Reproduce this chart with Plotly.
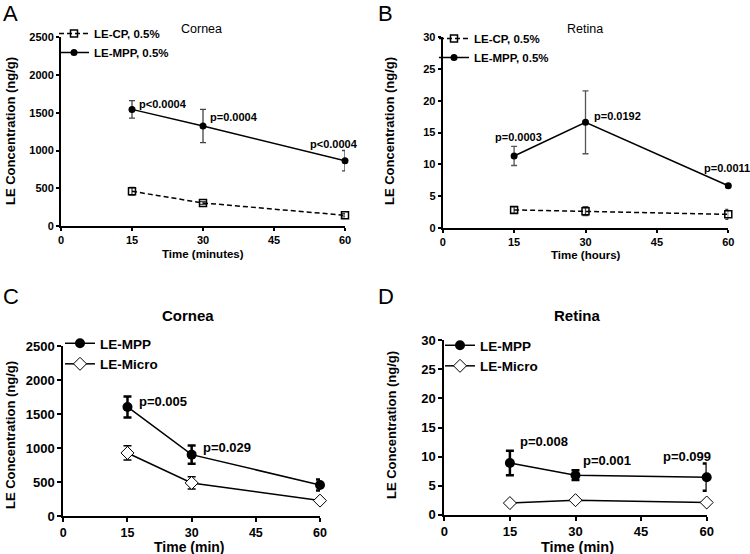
import plotly.graph_objects as go

W, H = 750, 554

# ---------------- data ----------------
time_pts = [15, 30, 60]
x_ticks = [0, 15, 30, 45, 60]

# Panel A – Cornea (minutes)
a_cp = [460, 305, 142]
a_cp_err = [50, 18, 22]
a_mpp = [1545, 1325, 865]
a_mpp_err = [115, 220, 135]
a_p_labels = ["p<0.0004", "p=0.0004", "p<0.0004"]
a_p_x = [16.0, 31.0, 57.6]
a_p_y = [1615, 1438, 1085]
a_p_anchor = ["left", "left", "center"]

# Panel B – Retina (hours)
b_cp = [2.8, 2.6, 2.1]
b_cp_err = [0.5, 0.7, 0.8]
b_mpp = [11.3, 16.6, 6.6]
b_mpp_err = [1.5, 4.95, 0.3]
b_p_labels = ["p=0.0003", "p=0.0192", "p=0.0011"]
b_p_x = [15.9, 31.4, 54.5]
b_p_y = [14.3, 17.6, 9.4]
b_p_anchor = ["center", "left", "left"]

# Panel C – Cornea (min)
c_mpp = [1605, 905, 460]
c_mpp_err = [155, 135, 80]
c_micro = [930, 490, 230]
c_micro_err = [105, 90, 20]
c_p_labels = ["p=0.005", "p=0.029", "p=0.017"]
c_p_x = [17.2, 32.3, 63.1]
c_p_y = [1692, 1017, 734]
c_p_anchor = ["left", "left", "center"]

# Panel D – Retina (min)
d_mpp = [8.9, 6.8, 6.45]
d_mpp_err = [2.1, 0.85, 2.35]
d_micro = [2.0, 2.5, 2.1]
d_micro_err = [0.15, 0.2, 0.15]
d_p_labels = ["p=0.008", "p=0.001", "p=0.099"]
d_p_x = [16.9, 31.2, 55.6]
d_p_y = [12.63, 9.36, 9.93]
d_p_anchor = ["left", "left", "center"]

y_ticks_cornea = [0, 500, 1000, 1500, 2000, 2500]
y_ticks_retina = [0, 5, 10, 15, 20, 25, 30]

FONT = "Liberation Sans, Arial, sans-serif"
BOLD = "Liberation Sans, Arial, sans-serif"

# pixel geometry of each panel: (x0, x60, y0, ytop)
panels = {
    "A": (61, 345, 226, 37.3),
    "B": (442.7, 728.3, 227.7, 37.3),
    "C": (63.3, 320, 516.3, 346),
    "D": (444.3, 706.7, 514.7, 340.3),
}

def px_x(p):
    return p / W

def px_y(p):
    return 1 - p / H

fig = go.Figure()

def add_series(xa, ya, legend, name, y, err, symbol, msize, fill, dash,
               lw, errcolor, errthick, errwidth, mline):
    fig.add_trace(go.Scatter(
        x=time_pts, y=y, name=name, mode="lines+markers",
        xaxis=xa, yaxis=ya, legend=legend,
        line=dict(color="black", width=lw, dash=dash),
        marker=dict(symbol=symbol, size=msize, color=fill,
                    line=dict(color="black", width=mline)),
        error_y=dict(type="data", array=err, visible=True, color=errcolor,
                     thickness=errthick, width=errwidth),
        cliponaxis=False,
    ))

# A
add_series("x", "y", "legend", "LE-CP, 0.5%", a_cp, a_cp_err, "square-open", 7,
           "black", "5px,3px", 1.5, "#444", 1.3, 3, 1.5)
add_series("x", "y", "legend", "LE-MPP, 0.5%", a_mpp, a_mpp_err, "circle", 7,
           "black", "solid", 1.5, "#444", 1.3, 3, 0)
# B
add_series("x2", "y2", "legend2", "LE-CP, 0.5%", b_cp, b_cp_err, "square-open", 7,
           "black", "5px,3px", 1.5, "#444", 1.3, 3, 1.5)
add_series("x2", "y2", "legend2", "LE-MPP, 0.5%", b_mpp, b_mpp_err, "circle", 7,
           "black", "solid", 1.5, "#555", 1.3, 3, 0)
# C
add_series("x3", "y3", "legend3", "LE-MPP", c_mpp, c_mpp_err, "circle", 10,
           "black", "solid", 1.5, "black", 2.5, 4, 0)
add_series("x3", "y3", "legend3", "LE-Micro", c_micro, c_micro_err, "diamond", 10,
           "white", "solid", 1.5, "black", 1.5, 4, 1)
# D
add_series("x4", "y4", "legend4", "LE-MPP", d_mpp, d_mpp_err, "circle", 10,
           "black", "solid", 1.5, "black", 2.5, 4, 0)
add_series("x4", "y4", "legend4", "LE-Micro", d_micro, d_micro_err, "diamond", 10,
           "white", "solid", 1.5, "black", 1.5, 4, 1)

layout = dict(
    width=W, height=H, margin=dict(l=0, r=0, t=0, b=0, autoexpand=False),
    paper_bgcolor="white", plot_bgcolor="white",
    font=dict(family=FONT, color="black"),
    showlegend=True,
)

axis_names = [("xaxis", "yaxis", "x", "y"), ("xaxis2", "yaxis2", "x2", "y2"),
              ("xaxis3", "yaxis3", "x3", "y3"), ("xaxis4", "yaxis4", "x4", "y4")]
ymax = {"A": 2500, "B": 30, "C": 2500, "D": 30}
yt = {"A": y_ticks_cornea, "B": y_ticks_retina, "C": y_ticks_cornea, "D": y_ticks_retina}
for key, (xn, yn, xr, yr) in zip("ABCD", axis_names):
    x0, x60, y0, ytop = panels[key]
    small = key in "AB"
    tsize = 11 if small else 13
    xtsize = 11 if small else (12.5 if key == "C" else 13)
    lwid = 2
    common = dict(
        showline=True, linecolor="black", linewidth=lwid,
        ticks="outside", ticklen=3 if small else 4, tickwidth=lwid, tickcolor="black",
        showgrid=False, zeroline=False, automargin=False,
        fixedrange=True,
    )
    layout[xn] = dict(
        domain=[px_x(x0), px_x(x60)], range=[0, 60], anchor=yr,
        tickvals=x_ticks, ticktext=[str(v) for v in x_ticks],
        tickfont=dict(family=BOLD, size=xtsize, color="black", weight="bold"), **common)
    layout[yn] = dict(
        domain=[px_y(y0), px_y(ytop)], range=[0, ymax[key]], anchor=xr,
        tickvals=yt[key], ticktext=[str(v) for v in yt[key]],
        tickfont=dict(family=BOLD, size=tsize, color="black", weight="bold"), **common)

# legends
leg_specs = {
    "legend": (px_x(54), px_y(19), 11.5),
    "legend2": (px_x(434), px_y(24), 11.5),
    "legend3": (px_x(60), px_y(328), 13.5),
    "legend4": (px_x(440), px_y(330), 13.5),
}
for ln, (lx, ly, fs) in leg_specs.items():
    layout[ln] = dict(x=lx, y=ly, xanchor="left", yanchor="top",
                      bgcolor="rgba(0,0,0,0)", borderwidth=0,
                      font=dict(family=BOLD, size=fs, color="black", weight="bold"),
                      itemwidth=30, tracegroupgap=0)

fig.update_layout(**layout)

annots = []
# panel letters
for letter, (lx, ly) in {"A": (1, 13), "B": (376, 13), "C": (1, 296), "D": (376, 296)}.items():
    annots.append(dict(text=letter, x=px_x(lx), y=px_y(ly), xref="paper", yref="paper",
                       xanchor="left", yanchor="middle", showarrow=False,
                       font=dict(family=FONT, size=22, color="black")))
# panel titles
titles = [("Cornea", 202, 29, 12.5, "normal"), ("Retina", 585, 29, 12.5, "normal"),
          ("Cornea", 188, 315, 15, "bold"), ("Retina", 577, 315, 15, "bold")]
for t, tx, ty, fs, wt in titles:
    annots.append(dict(text=t, x=px_x(tx), y=px_y(ty), xref="paper", yref="paper",
                       xanchor="center", yanchor="middle", showarrow=False,
                       font=dict(family=FONT, size=fs, color="black", weight=wt)))
# x-axis titles
xtitles = [("Time (minutes)", 203, 254, 11.5), ("Time (hours)", 586, 255, 11.5),
           ("Time (min)", 189, 547, 14), ("Time (min)", 577, 546.5, 14.5)]
for t, tx, ty, fs in xtitles:
    annots.append(dict(text=t, x=px_x(tx), y=px_y(ty), xref="paper", yref="paper",
                       xanchor="center", yanchor="middle", showarrow=False,
                       font=dict(family=BOLD, size=fs, color="black", weight="bold")))
# y-axis titles
ytitles = [(10, 131), (389, 131), (11, 435), (391, 425)]
for tx, ty in ytitles:
    annots.append(dict(text="LE Concentration (ng/g)", x=px_x(tx), y=px_y(ty),
                       xref="paper", yref="paper", textangle=-90,
                       xanchor="center", yanchor="middle", showarrow=False,
                       font=dict(family=BOLD, size=13, color="black", weight="bold")))
# p-value labels
for xr, yr, labels, xs, ys, anc, fs in [
    ("x", "y", a_p_labels, a_p_x, a_p_y, a_p_anchor, 11),
    ("x2", "y2", b_p_labels, b_p_x, b_p_y, b_p_anchor, 11),
    ("x3", "y3", c_p_labels, c_p_x, c_p_y, c_p_anchor, 13),
    ("x4", "y4", d_p_labels, d_p_x, d_p_y, d_p_anchor, 13),
]:
    for lab, px_, py_, an in zip(labels, xs, ys, anc):
        annots.append(dict(text=lab, x=px_, y=py_, xref=xr, yref=yr,
                           xanchor=an, yanchor="middle", showarrow=False,
                           font=dict(family=BOLD, size=fs, color="black", weight="bold")))

fig.update_layout(annotations=annots)
fig.write_html("out.html", config={"displayModeBar": False},
               post_script="document.body.style.margin='0px';document.body.style.overflow='hidden';")
